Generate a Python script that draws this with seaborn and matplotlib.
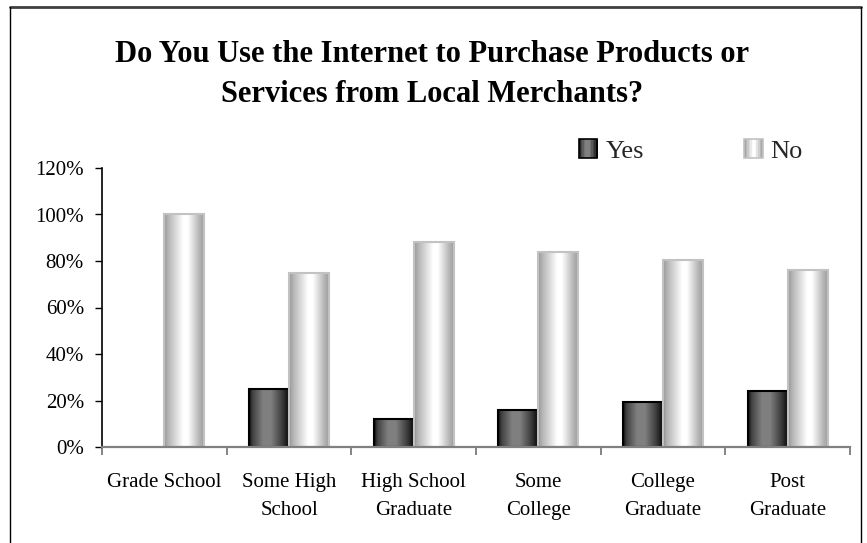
import numpy as np
import pandas as pd
import matplotlib
matplotlib.use("Agg")
import matplotlib.pyplot as plt
import seaborn as sns
from matplotlib.lines import Line2D
from matplotlib.patches import Rectangle
from matplotlib.legend_handler import HandlerBase

# Survey results by education level (% of respondents)
levels = ["Grade School", "Some High\nSchool", "High School\nGraduate",
          "Some\nCollege", "College\nGraduate", "Post\nGraduate"]
yes_share = [0, 25, 12, 16, 19.5, 24]
no_share = [100, 75, 88, 84, 80.5, 76]
responses = ["Yes", "No"]
y_ticks = [0, 20, 40, 60, 80, 100, 120]
title_lines = ["Do You Use the Internet to Purchase Products or",
               "Services from Local Merchants?"]

sns.set_theme(style="white")
plt.rcParams["font.family"] = ["Liberation Serif", "DejaVu Serif"]

df = pd.DataFrame({
    "level": levels * 2,
    "response": ["Yes"] * len(levels) + ["No"] * len(levels),
    "share": yes_share + no_share,
})

W, H = 867, 543
fig = plt.figure(figsize=(W / 100, H / 100), dpi=100)
ax = fig.add_axes([102 / W, 1 - 447 / H, (850 - 102) / W, (447 - 168) / H])

sns.barplot(data=df, x="level", y="share", hue="response", order=levels,
            hue_order=responses, palette=["#555555", "#dddddd"],
            width=0.64, saturation=1, legend=False, ax=ax)

# cylinder-like horizontal shading for each series
profiles = {
    "Yes": ([0, .08, .35, .55, .85, 1], [.05, .25, .50, .50, .22, .04], "#000000"),
    "No": ([0, .12, .48, .6, .88, 1], [.60, .72, 1.0, 1.0, .72, .62], "#c2c2c2"),
}


def gradient(resp, n=80):
    xs, vs, _ = profiles[resp]
    g = np.interp(np.linspace(0, 1, n), xs, vs)
    return np.repeat(g[None, :, None], 3, axis=2)


for resp, cont in zip(responses, ax.containers):
    img = gradient(resp)
    edge = profiles[resp][2]
    for bar in cont:
        h = bar.get_height()
        if h <= 0:
            bar.set_visible(False)
            continue
        x0, w = bar.get_x(), bar.get_width()
        ax.imshow(img, extent=(x0, x0 + w, 0, h), aspect="auto",
                  interpolation="bilinear", zorder=2)
        bar.set_facecolor("none")
        bar.set_edgecolor(edge)
        bar.set_linewidth(1.5)
        bar.set_zorder(3)

ax.set_xlim(-0.5, len(levels) - 0.5)
ax.set_ylim(0, 120)
ax.set_xlabel("")
ax.set_ylabel("")

# y axis
ax.set_yticks(y_ticks)
ax.set_yticklabels([f"{v}%" for v in y_ticks])
ax.tick_params(axis="y", which="major", direction="out", length=5, width=1,
               color="black", pad=8, labelsize=15, labelcolor="black", left=True)

# x axis: ticks at category boundaries, labels centred
ax.set_xticks(np.arange(-0.5, len(levels), 1.0))
ax.set_xticklabels([])
ax.set_xticks(np.arange(len(levels)), minor=True)
ax.set_xticklabels(levels, minor=True)
ax.tick_params(axis="x", which="major", direction="out", length=6, width=1.2,
               color="#707070", bottom=True)
ax.tick_params(axis="x", which="minor", length=0, pad=19, labelsize=15,
               labelcolor="black", bottom=True)
for lbl in ax.get_xticklabels(minor=True):
    lbl.set_linespacing(1.6)

for side in ("top", "right"):
    ax.spines[side].set_visible(False)
ax.spines["left"].set_color("black")
ax.spines["left"].set_linewidth(1.2)
ax.spines["bottom"].set_color("#808080")
ax.spines["bottom"].set_linewidth(1.6)
ax.spines["left"].set_zorder(4)
ax.spines["bottom"].set_zorder(4)


# legend swatches with the same shading
class GradientHandler(HandlerBase):
    def __init__(self, resp):
        super().__init__()
        self.resp = resp

    def create_artists(self, legend, orig_handle, xdescent, ydescent,
                       width, height, fontsize, trans):
        xs, vs, edge = profiles[self.resp]
        n = 12
        arts = []
        for i in range(n):
            v = float(np.interp((i + 0.5) / n, xs, vs))
            arts.append(Rectangle((-xdescent + i * width / n, -ydescent),
                                  width / n + 0.3, height, facecolor=(v, v, v),
                                  edgecolor="none", transform=trans))
        arts.append(Rectangle((-xdescent, -ydescent), width, height,
                              facecolor="none", edgecolor=edge, lw=1.2,
                              transform=trans))
        return arts


handles = [Rectangle((0, 0), 1, 1, label=r) for r in responses]
fig.legend(handles=handles, labels=responses, ncol=2, frameon=False,
           loc="center left", bbox_to_anchor=(579 / W, 1 - 151 / H),
           borderaxespad=0, borderpad=0, fontsize=19,
           handlelength=0.7, handleheight=0.7, handletextpad=0.3,
           columnspacing=3.8,
           handler_map={handles[0]: GradientHandler("Yes"),
                        handles[1]: GradientHandler("No")})

# title
fig.text(432 / W, 1 - 62 / H, title_lines[0], ha="center", va="baseline",
         fontsize=22, fontweight="bold", color="black")
fig.text(432 / W, 1 - 102 / H, title_lines[1], ha="center", va="baseline",
         fontsize=22, fontweight="bold", color="black")

# outer chart frame
fig.add_artist(Line2D([10 / W, 861 / W], [1 - 7 / H, 1 - 7 / H],
                      transform=fig.transFigure, color="#404040", lw=2))
fig.add_artist(Line2D([10 / W, 10 / W], [1 - 7 / H, 0],
                      transform=fig.transFigure, color="black", lw=1))
fig.add_artist(Line2D([861 / W, 861 / W], [1 - 7 / H, 0],
                      transform=fig.transFigure, color="black", lw=1))

fig.savefig("out.png", dpi=100)
